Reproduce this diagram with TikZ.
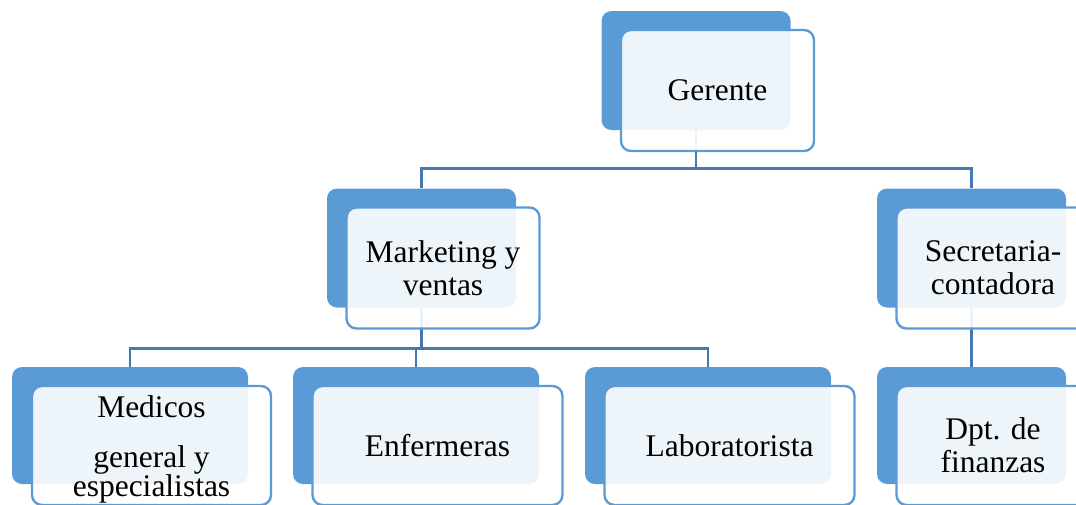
\documentclass[tikz,border=0pt]{standalone}
\usepackage{fontspec}
\setmainfont{Liberation Serif}
\usepackage{xcolor}
\usepackage{tikz}
\usetikzlibrary{positioning}

\definecolor{relleno}{RGB}{91,155,213}
\definecolor{borde}{RGB}{91,155,213}
\definecolor{linea}{RGB}{69,119,176}

\tikzset{
    fondo/.style={fill=relleno,rounded corners=10pt,inner sep=0pt},
    tarjeta/.style={draw=borde,line width=2.4pt,fill=white,fill opacity=0.9,text opacity=1,
        rounded corners=10pt,inner sep=0pt,align=center,font=\fontsize{31.5}{33}\selectfont},
    enlace/.style={draw=linea,line width=2.6pt},
    frente/.style={shift={(21.5,20)}}
}

\begin{document}
\begin{tikzpicture}[x=1pt,y=-1pt]
            \clip (0,0) rectangle (1076,504);
            \useasboundingbox (0,0) rectangle (1076,504);
            % fondos azules
            \node[fondo,minimum width=189pt,minimum height=119pt] (gerB) at (696,70.5) {};
            \node[fondo,minimum width=189pt,minimum height=119pt] (mkB) at (421.5,248) {};
            \node[fondo,minimum width=189pt,minimum height=119pt] (secB) at (971.5,248) {};
            \node[fondo,minimum width=236pt,minimum height=117pt] (medB) at (130,425.5) {};
            \node[fondo,minimum width=246pt,minimum height=117pt] (enfB) at (416,425.5) {};
            \node[fondo,minimum width=246pt,minimum height=117pt] (labB) at (708,425.5) {};
            \node[fondo,minimum width=189pt,minimum height=117pt] (dptB) at (971.5,425.5) {};
            % enlaces
            \draw[enlace] (gerB.south) -- ++(0,38) -| (mkB.north);
            \draw[enlace] (gerB.south) -- ++(0,38) -| (secB.north);
            \draw[enlace] (mkB.south) -- ++(0,41) -| (medB.north);
            \draw[enlace] (mkB.south) -- ++(0,41) -| (enfB.north);
            \draw[enlace] (mkB.south) -- ++(0,41) -| (labB.north);
            \draw[enlace] (secB.south) -- (dptB.north);
            % tarjetas
            \node[tarjeta,minimum width=193pt,minimum height=121pt] (ger) at ([frente]gerB.center) {Gerente};
            \node[tarjeta,minimum width=193pt,minimum height=121pt] (mk) at ([frente]mkB.center) {Marketing y\\ventas};
            \node[tarjeta,minimum width=193pt,minimum height=121pt] (sec) at ([frente]secB.center) {Secretaria-\\contadora};
            \node[tarjeta,minimum width=239pt,minimum height=119pt] (med) at ([frente]medB.center) {\rule{0pt}{30pt}Medicos\\[17pt]general y\\[-4pt]especialistas};
            \node[tarjeta,minimum width=250pt,minimum height=119pt] (enf) at ([frente]enfB.center) {Enfermeras};
            \node[tarjeta,minimum width=250pt,minimum height=119pt] (lab) at ([frente]labB.center) {Laboratorista};
            \node[tarjeta,minimum width=193pt,minimum height=119pt] (dpt) at ([frente]dptB.center) {Dpt. de\\finanzas};
        \end{tikzpicture}
\end{document}
